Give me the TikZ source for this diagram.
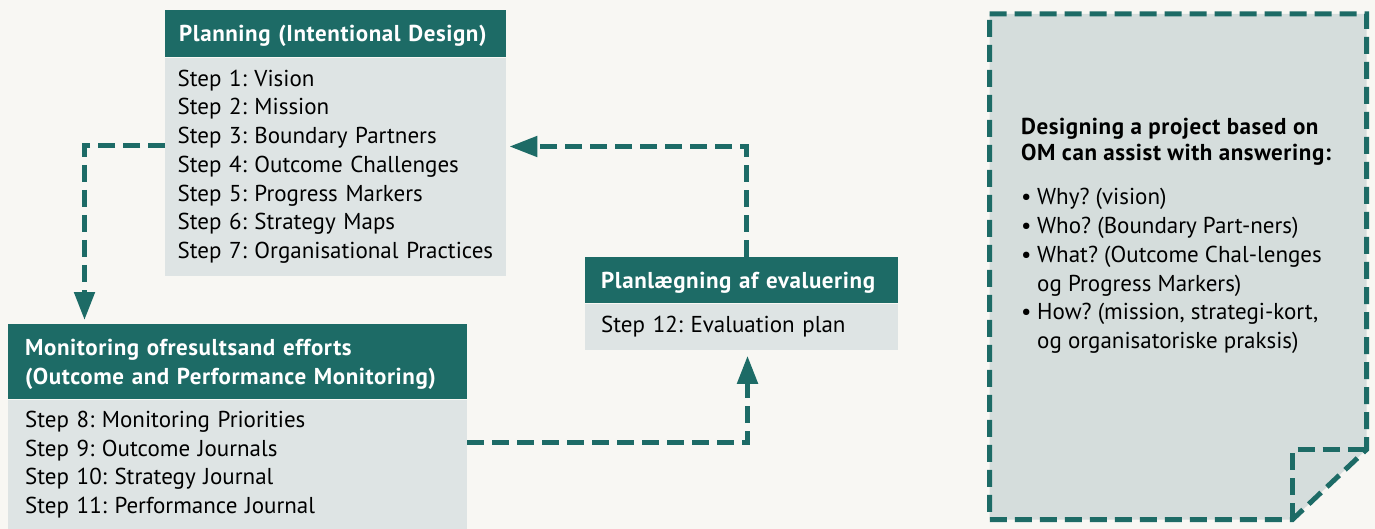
\documentclass[tikz,border=0pt]{standalone}
\usepackage{fontspec}
\setmainfont{PT Sans}[BoldFeatures={LetterSpace=2.5}]
\usetikzlibrary{arrows.meta, positioning}
\definecolor{omteal}{RGB}{29,107,102}
\definecolor{ombody}{RGB}{222,228,228}
\definecolor{omdoc}{RGB}{213,221,220}
\definecolor{ombg}{RGB}{248,247,243}
\frenchspacing

\begin{document}
\begin{tikzpicture}[x=1pt, y=-1pt,
  head/.style={fill=omteal, text=white, font=\fontsize{23}{29}\selectfont\bfseries,
               align=left, inner xsep=14pt, inner ysep=0pt, text depth=0pt, anchor=north west},
  stepbox/.style={fill=ombody, text=black, font=\fontsize{23}{28.7}\selectfont,
                  align=left, inner xsep=14pt, inner ysep=0pt},
  flow/.style={draw=omteal, line width=5pt, dash pattern=on 17pt off 8pt,
               -{Triangle[length=28pt, width=20pt]}}]
  % Canvas
  \useasboundingbox (0,0) rectangle (1375,529);
  \fill[ombg] (0,0) rectangle (1375,529);

  % Planning
  \node[head, text width=313pt, minimum height=47pt] (planhead) at (165,10)
    {Planning (Intentional Design)};
  \node[stepbox, inner xsep=12.5pt, text width=316pt, minimum height=218pt, below=0pt of planhead] (planbody)
    {Step 1: Vision\\Step 2: Mission\\Step 3: Boundary Partners\\Step 4: Outcome Challenges\\
     Step 5: Progress Markers\\Step 6: Strategy Maps\\Step 7: Organisational Practices};

  % Monitoring
  \node[head, inner xsep=17pt, text width=425pt, text depth=28.5pt, minimum height=75pt] (monhead) at (8,324)
    {Monitoring ofresultsand efforts\\(Outcome and Performance Monitoring)};
  \node[stepbox, inner xsep=17pt, text width=425pt, minimum height=130pt, below=0pt of monhead] (monbody)
    {Step 8: Monitoring Priorities\\Step 9: Outcome Journals\\Step 10: Strategy Journal\\
     Step 11: Performance Journal};

  % Evaluation planning
  \node[head, inner xsep=16pt, text width=281pt, minimum height=46pt] (evalhead) at (585,257)
    {Planlægning af evaluering};
  \node[stepbox, inner xsep=16pt, text width=281pt, minimum height=46pt, below=0pt of evalhead] (evalbody)
    {Step 12: Evaluation plan};

  % Cycle (dashed)
  \coordinate (bendA) at (84.5,145.5);
  \coordinate (bendB) at (747.5,442.5);
  \coordinate (bendC) at (746.5,146.5);
  \draw[flow, shorten >=4pt] (bendA -| planbody.west) -| (monhead.north -| bendA);
  \draw[flow, shorten >=6pt] (bendB -| monbody.east) -| (evalbody.south -| bendB);
  \draw[flow, shorten >=3pt] (evalhead.north -| bendC) |- (planbody.east |- bendC);

  % Note sheet with folded corner
  \fill[omdoc] (989.5,14) -- (1366.5,14) -- (1366.5,449.5) -- (1292.5,519.5)
    -- (989.5,519.5) -- cycle;
  \draw[omteal, line width=5pt, dash pattern=on 17pt off 8pt] (989.5,14) -- (1366.5,14)
    -- (1366.5,449.5) -- (1292.5,519.5) -- (989.5,519.5) -- cycle;
  \draw[omteal, line width=5pt, dash pattern=on 17pt off 8pt]
    (1292.5,519.5) -- (1292.5,449.5) -- (1366.5,449.5);

  \node[font=\fontsize{23}{26.5}\selectfont\bfseries, align=left, anchor=west, inner sep=0pt]
    (omhead) at (1021,142) {Designing a project based on\\OM can assist with answering:};
  \node[font=\fontsize{23}{28.7}\selectfont, align=left, anchor=west, inner sep=0pt]
    (omlist) at (1021,271)
    {\makebox[16pt][l]{\textbullet}Why? (vision)\\
     \makebox[16pt][l]{\textbullet}Who? (Boundary Part-ners)\\
     \makebox[16pt][l]{\textbullet}What? (Outcome Chal-lenges\\
     \hspace*{16pt}og Progress Markers)\\
     \makebox[16pt][l]{\textbullet}How? (mission, strategi-kort,\\
     \hspace*{16pt}og organisatoriske praksis)};
\end{tikzpicture}
\end{document}
